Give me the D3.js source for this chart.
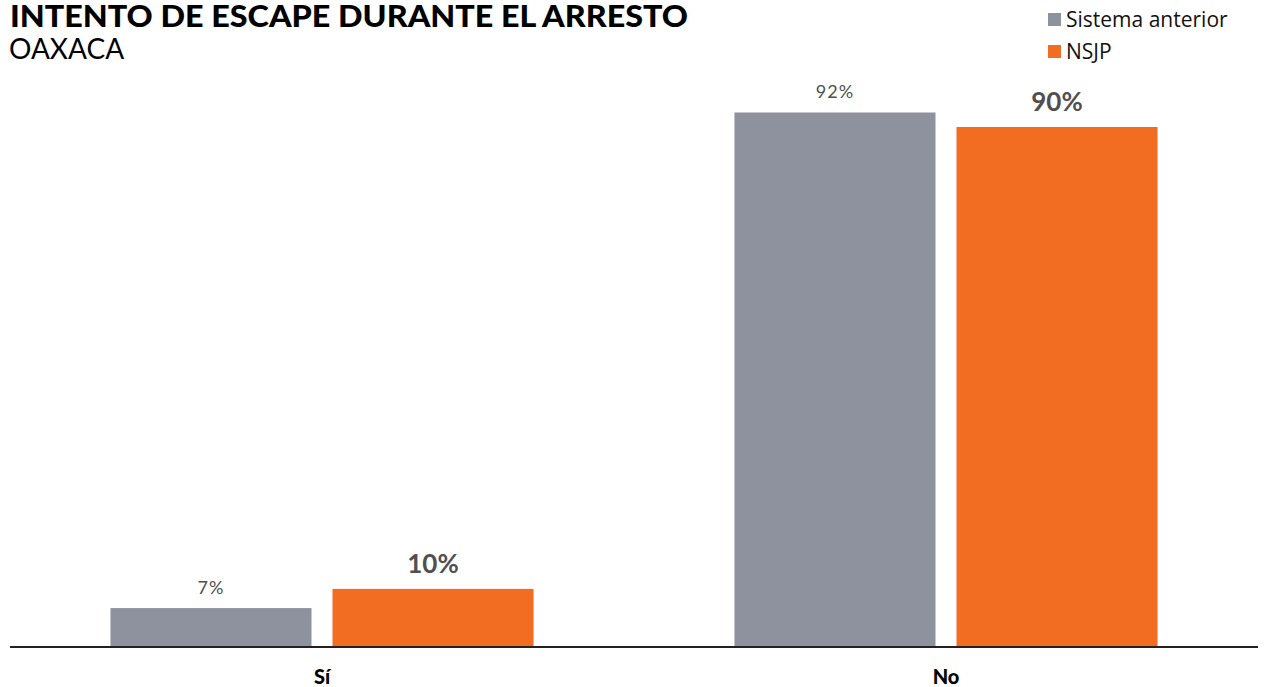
<!DOCTYPE html>
<html>
<head>
<meta charset="utf-8">
<script src="https://cdn.jsdelivr.net/npm/d3@7"></script>
<style>
  html, body { margin: 0; padding: 0; background: #fff; }
  svg { display: block; }
</style>
</head>
<body>
<svg id="chart" width="1265" height="687"></svg>
<script>
const categories = ["Sí", "No"];
const seriesNames = ["Sistema anterior", "NSJP"];
const sistemaAnterior = [6.7, 92.0];
const nsjp = [10.0, 89.5];
const labelsSistema = ["7%", "92%"];
const labelsNsjp = ["10%", "90%"];
const colors = ["#8e929e", "#f26c22"];

const svg = d3.select("#chart");
const baseY = 647;

const x0 = d3.scaleBand().domain(categories).range([10, 1258])
  .paddingInner(0.322).paddingOuter(0.161);
const x1 = d3.scaleBand().domain(seriesNames).range([0, x0.bandwidth()])
  .paddingInner(0.0946).paddingOuter(0);
const y = d3.scaleLinear().domain([0, 100]).range([baseY, 66]);

const rows = categories.map((c, i) => ({
  cat: c,
  vals: [
    {s: seriesNames[0], v: sistemaAnterior[i], lab: labelsSistema[i], k: 0},
    {s: seriesNames[1], v: nsjp[i], lab: labelsNsjp[i], k: 1}
  ]
}));

const g = svg.append("g");
const grp = g.selectAll("g.grp").data(rows).join("g")
  .attr("transform", d => `translate(${x0(d.cat)},0)`);

grp.selectAll("rect").data(d => d.vals).join("rect")
  .attr("x", d => x1(d.s))
  .attr("width", x1.bandwidth())
  .attr("y", d => y(d.v))
  .attr("height", d => baseY - y(d.v))
  .attr("fill", d => colors[d.k]);

grp.selectAll("text.val").data(d => d.vals).join("text")
  .attr("class", "val")
  .attr("x", d => x1(d.s) + x1.bandwidth() / 2)
  .attr("y", d => y(d.v) - (d.k === 0 ? 14 : 16))
  .attr("text-anchor", "middle")
  .attr("font-family", "Lato, sans-serif")
  .attr("font-size", d => d.k === 0 ? 18 : 26)
  .attr("font-weight", d => d.k === 0 ? 400 : 700)
  .attr("letter-spacing", d => d.k === 0 ? 1 : 0)
  .attr("fill", "#505050")
  .text(d => d.lab);

// baseline axis
const xAxis = d3.axisBottom(x0).tickSize(0).tickPadding(0);
const ax = svg.append("g").attr("transform", `translate(0,${baseY})`).call(xAxis);
ax.select(".domain").attr("stroke", "#222").attr("stroke-width", 2)
  .attr("d", "M10,0H1258");
ax.selectAll(".tick text")
  .attr("y", 37)
  .attr("dy", 0)
  .attr("font-family", "Lato, sans-serif")
  .attr("font-size", 20)
  .attr("font-weight", 900)
  .attr("fill", "#000");

// title
svg.append("text").attr("x", 10).attr("y", 27)
  .attr("font-family", "Lato, sans-serif").attr("font-weight", 900)
  .attr("font-size", 30.5).attr("fill", "#000")
  .attr("textLength", 678).attr("lengthAdjust", "spacingAndGlyphs")
  .text("INTENTO DE ESCAPE DURANTE EL ARRESTO");
svg.append("text").attr("x", 9).attr("y", 59)
  .attr("font-family", "Lato, sans-serif").attr("font-weight", 400)
  .attr("font-size", 28).attr("fill", "#000")
  .text("OAXACA");

// legend
const leg = svg.append("g").attr("transform", "translate(1048,13)");
const li = leg.selectAll("g").data(seriesNames).join("g")
  .attr("transform", (d, i) => `translate(0,${i * 32})`);
li.append("rect").attr("width", 13).attr("height", 13)
  .attr("fill", (d, i) => colors[i]);
li.append("text").attr("x", 18).attr("y", 14)
  .attr("font-family", "'Open Sans', sans-serif")
  .attr("font-size", 21).attr("fill", "#111")
  .text(d => d);
</script>
</body>
</html>
